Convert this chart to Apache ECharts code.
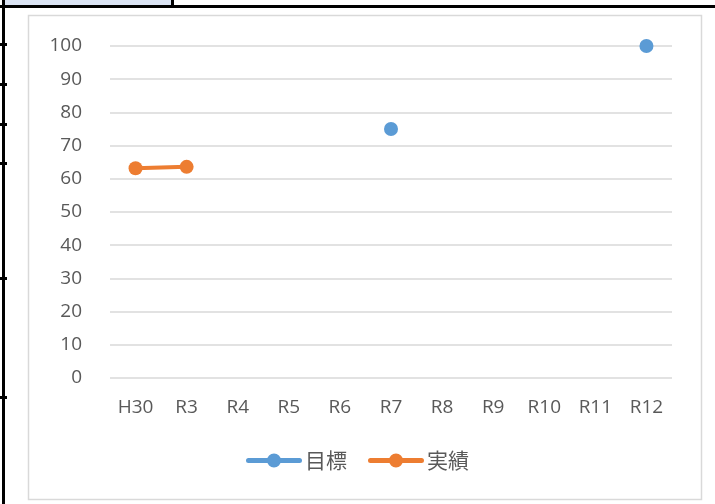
<!DOCTYPE html>
<html>
<head>
<meta charset="utf-8">
<script src="https://cdn.jsdelivr.net/npm/echarts@6/dist/echarts.min.js"></script>
<style>
  html, body { margin: 0; padding: 0; background: #fff; }
  #chart { width: 715px; height: 504px; }
</style>
</head>
<body>
<div id="chart"></div>
<script>
// Fiscal years along the x axis
const years = ['H30', 'R3', 'R4', 'R5', 'R6', 'R7', 'R8', 'R9', 'R10', 'R11', 'R12'];
// Target values (only set for some years)
const targetValues = [null, null, null, null, null, 75, null, null, null, null, 100];
// Actual results
const actualValues = [63.2, 63.6, null, null, null, null, null, null, null, null, null];
// y-axis range
const yMin = 0, yMax = 100, yStep = 10;

const textColor = '#595959';
const latinFont = '"Open Sans", "Noto Sans", sans-serif';
const cjkFont = '"Noto Sans CJK JP", sans-serif';

// legend icon: thick rounded bar with a dot in the middle
const legendIcon = 'path://M2.5,4.5 L53.5,4.5 A2.5,2.5 0 0 1 53.5,9.5 L2.5,9.5 A2.5,2.5 0 0 1 2.5,4.5 Z ' +
  'M21,7 A7,7 0 1 1 35,7 A7,7 0 1 1 21,7 Z';

const chart = echarts.init(document.getElementById('chart'), null, { renderer: 'canvas' });

chart.setOption({
  backgroundColor: '#ffffff',
  animation: false,
  textStyle: { fontFamily: latinFont, color: textColor },
  grid: { left: 110, right: 43, top: 46, bottom: 126 },
  xAxis: {
    type: 'category',
    data: years,
    boundaryGap: true,
    axisLine: { show: false },
    axisTick: { show: false },
    axisLabel: { color: textColor, fontSize: 19, fontFamily: latinFont, margin: 20 }
  },
  yAxis: {
    type: 'value',
    min: yMin, max: yMax, interval: yStep,
    axisLine: { show: false },
    axisTick: { show: false },
    splitLine: { lineStyle: { color: '#d9d9d9', width: 1.5 } },
    axisLabel: { color: textColor, fontSize: 19, fontFamily: latinFont, margin: 28 }
  },
  legend: {
    bottom: 28,
    left: 'center',
    itemWidth: 56,
    itemHeight: 14,
    itemGap: 21,
    textStyle: { color: textColor, fontSize: 21, fontFamily: cjkFont, padding: [0, 0, 0, -2] },
    data: [
      { name: '目標', icon: legendIcon },
      { name: '実績', icon: legendIcon }
    ]
  },
  series: [
    {
      name: '目標',
      type: 'line',
      data: targetValues,
      connectNulls: false,
      symbol: 'circle',
      symbolSize: 14,
      itemStyle: { color: '#5b9bd5' },
      lineStyle: { color: '#5b9bd5', width: 4, cap: 'round' }
    },
    {
      name: '実績',
      type: 'line',
      data: actualValues,
      symbol: 'circle',
      symbolSize: 14,
      itemStyle: { color: '#ed7d31' },
      lineStyle: { color: '#ed7d31', width: 4, cap: 'round' }
    }
  ],
  graphic: [
    // chart frame
    { type: 'rect', shape: { x: 28.5, y: 15.5, width: 673, height: 484 },
      style: { fill: null, stroke: '#d9d9d9', lineWidth: 1.5 }, silent: true },
    // surrounding sheet cells
    { type: 'rect', shape: { x: 5, y: 0, width: 167, height: 5 },
      style: { fill: '#dae3f3' }, silent: true },
    { type: 'rect', shape: { x: 0, y: 5, width: 715, height: 3 },
      style: { fill: '#000' }, silent: true },
    { type: 'rect', shape: { x: 171, y: 0, width: 3, height: 8 },
      style: { fill: '#000' }, silent: true },
    { type: 'rect', shape: { x: 2, y: 0, width: 3, height: 504 },
      style: { fill: '#000' }, silent: true },
    { type: 'rect', shape: { x: 0, y: 43, width: 7, height: 3 }, style: { fill: '#000' }, silent: true },
    { type: 'rect', shape: { x: 0, y: 83, width: 7, height: 3 }, style: { fill: '#000' }, silent: true },
    { type: 'rect', shape: { x: 0, y: 123, width: 7, height: 3 }, style: { fill: '#000' }, silent: true },
    { type: 'rect', shape: { x: 0, y: 162, width: 7, height: 3 }, style: { fill: '#000' }, silent: true },
    { type: 'rect', shape: { x: 0, y: 277, width: 7, height: 3 }, style: { fill: '#000' }, silent: true },
    { type: 'rect', shape: { x: 0, y: 396, width: 7, height: 3 }, style: { fill: '#000' }, silent: true }
  ]
});
</script>
</body>
</html>
